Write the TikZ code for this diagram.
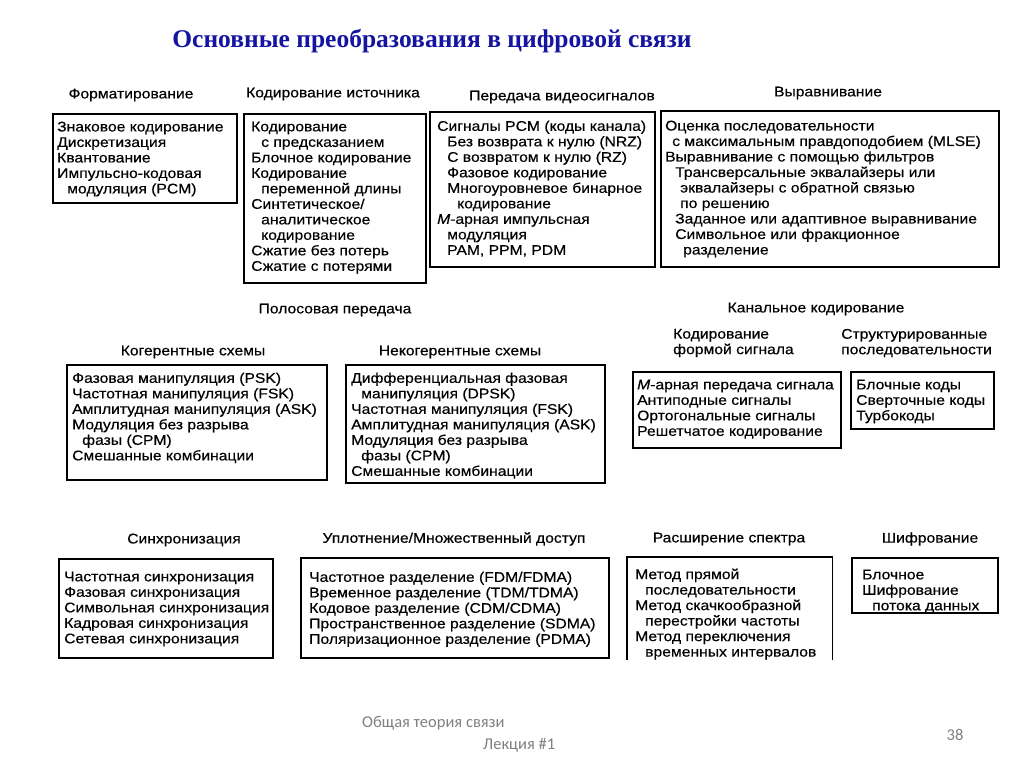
\documentclass[tikz,border=0pt]{standalone}
\usepackage{fontspec}
\setmainfont{Liberation Sans}
\newfontfamily\boxfont[FakeStretch=1.12,FakeBold=0.4]{Liberation Sans}
\newfontfamily\titlefont{Liberation Serif}
\newfontfamily\footfont{Carlito}
\definecolor{titleblue}{RGB}{20,20,160}
\definecolor{footgray}{RGB}{128,128,128}
\tikzset{
 box/.style={draw=black, line width=1.7pt, rectangle, inner sep=0pt, anchor=north west},
 openbox/.style={rectangle, inner sep=0pt, anchor=north west},
 txt/.style={anchor=north west, inner sep=0pt, align=left, font=\boxfont\fontsize{14}{15.5}\selectfont},
 lbl/.style={inner sep=0pt, align=left, font=\boxfont\fontsize{14}{15.5}\selectfont},
 foot/.style={inner sep=0pt, font=\footfont\fontsize{16.5}{18}\selectfont, text=footgray},
}
\newcommand\ii{\hspace*{10pt}}
\newcommand\iii{\hspace*{20pt}}
\begin{document}
\begin{tikzpicture}[x=1pt,y=-1pt]
\useasboundingbox (0,0) rectangle (1024,768);
\fill[white] (0,0) rectangle (1024,768);

\node[font=\titlefont\bfseries\fontsize{25.5}{30}\selectfont, text=titleblue] (title) at (432,41) {Основные преобразования в цифровой связи};

% ---------- top row
\node[lbl] (l1) at (131,95) {Форматирование};
\node[box, minimum width=184pt, minimum height=89pt] (b1) at (52,113) {};
\node[txt] (t1) at (57,121.5) {Знаковое кодирование\\Дискретизация\\Квантование\\Импульсно-кодовая\\\ii модуляция (PCM)};

\node[lbl] (l2) at (333,94) {Кодирование источника};
\node[box, minimum width=182pt, minimum height=169pt] (b2) at (243,113) {};
\node[txt] (t2) at (251,121.5) {Кодирование\\\ii с предсказанием\\Блочное кодирование\\Кодирование\\\ii переменной длины\\Синтетическое/\\\ii аналитическое\\\ii кодирование\\Сжатие без потерь\\Сжатие с потерями};

\node[lbl] (l3) at (562,97) {Передача видеосигналов};
\node[box, minimum width=225pt, minimum height=155pt] (b3) at (429,111) {};
\node[txt] (t3) at (437,120.5) {Сигналы PCM (коды канала)\\\ii Без возврата к нулю (NRZ)\\\ii С возвратом к нулю (RZ)\\\ii Фазовое кодирование\\\ii Многоуровневое бинарное\\\iii кодирование\\{\itshape M}-арная импульсная\\\ii модуляция\\\ii PAM, PPM, PDM};

\node[lbl] (l4) at (828,93) {Выравнивание};
\node[box, minimum width=338pt, minimum height=156pt] (b4) at (660,110) {};
\node[txt] (t4) at (665,120.5) {Оценка последовательности\\\hspace*{7pt}с максимальным правдоподобием (MLSE)\\Выравнивание с помощью фильтров\\\ii Трансверсальные эквалайзеры или\\\hspace*{15pt}эквалайзеры с обратной связью\\\hspace*{15pt}по решению\\\ii Заданное или адаптивное выравнивание\\\ii Символьное или фракционное\\\hspace*{18pt}разделение};

% ---------- middle row
\node[lbl] (l5) at (335,310) {Полосовая передача};

\node[lbl] (l6) at (193,352) {Когерентные схемы};
\node[box, minimum width=260pt, minimum height=115pt] (b6) at (66,364) {};
\node[txt] (t6) at (72,372.5) {Фазовая манипуляция (PSK)\\Частотная манипуляция (FSK)\\Амплитудная манипуляция (ASK)\\Модуляция без разрыва\\\ii фазы (CPM)\\Смешанные комбинации};

\node[lbl] (l7) at (460,352) {Некогерентные схемы};
\node[box, minimum width=259pt, minimum height=118pt] (b7) at (345,364) {};
\node[txt] (t7) at (351,372.5) {Дифференциальная фазовая\\\ii манипуляция (DPSK)\\Частотная манипуляция (FSK)\\Амплитудная манипуляция (ASK)\\Модуляция без разрыва\\\ii фазы (CPM)\\Смешанные комбинации};

\node[lbl] (l8) at (816,309) {Канальное кодирование};

\node[lbl, anchor=west] (l9) at (673,343) {Кодирование\\формой сигнала};
\node[box, minimum width=208pt, minimum height=76pt] (b9) at (632,371) {};
\node[txt] (t9) at (637,379.5) {{\itshape M}-арная передача сигнала\\Антиподные сигналы\\Ортогональные сигналы\\Решетчатое кодирование};

\node[lbl, anchor=west] (l10) at (841,343) {Структурированные\\последовательности};
\node[box, minimum width=143pt, minimum height=57pt] (b10) at (850,371) {};
\node[txt] (t10) at (856,379.5) {Блочные коды\\Сверточные коды\\Турбокоды};

% ---------- bottom row
\node[lbl] (l11) at (184,540) {Синхронизация};
\node[box, minimum width=214pt, minimum height=99pt] (b11) at (58,558) {};
\node[txt] (t11) at (64,571.5) {Частотная синхронизация\\Фазовая синхронизация\\Символьная синхронизация\\Кадровая синхронизация\\Сетевая синхронизация};

\node[lbl] (l12) at (454,539) {Уплотнение/Множественный доступ};
\node[box, minimum width=308pt, minimum height=100pt] (b12) at (300,557) {};
\node[txt] (t12) at (309,571.5) {Частотное разделение (FDM/FDMA)\\Временное разделение (TDM/TDMA)\\Кодовое разделение (CDM/CDMA)\\Пространственное разделение (SDMA)\\Поляризационное разделение (PDMA)};

\node[lbl] (l13) at (729,539) {Расширение спектра};
\node[openbox, minimum width=205pt, minimum height=103pt] (b13) at (627,557) {};
\draw[line width=1.7pt] (b13.south west) |- (b13.north east) -- (b13.south east);
\node[txt] (t13) at (635,568.5) {Метод прямой\\\ii последовательности\\Метод скачкообразной\\\ii перестройки частоты\\Метод переключения\\\ii временных интервалов};

\node[lbl] (l14) at (930,539) {Шифрование};
\node[box, minimum width=146pt, minimum height=55pt] (b14) at (851,557) {};
\node[txt] (t14) at (862,569.5) {Блочное\\Шифрование\\\ii потока данных};

% ---------- footer
\node[foot, anchor=west] (f1) at (362,723) {Общая теория связи};
\node[foot, anchor=west] (f2) at (483,745) {Лекция \#1};
\node[foot] (f3) at (955,735) {38};
\end{tikzpicture}
\end{document}
